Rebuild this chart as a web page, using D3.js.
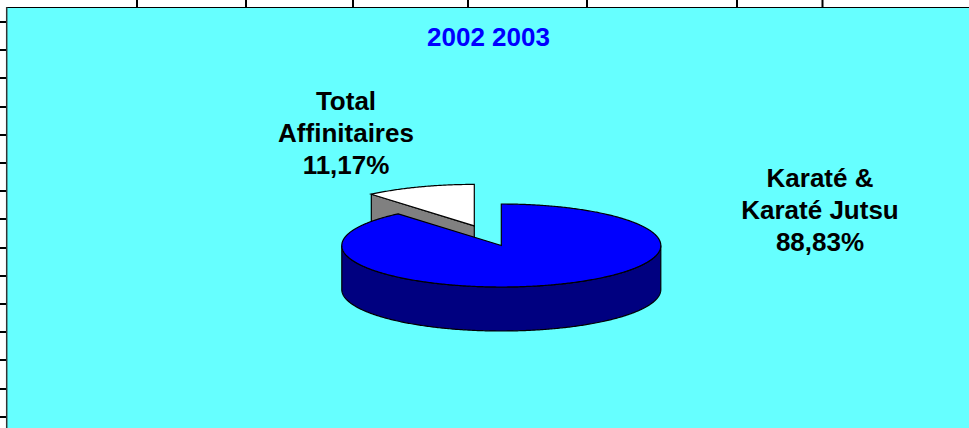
<!DOCTYPE html>
<html>
<head>
<meta charset="utf-8">
<script src="https://cdn.jsdelivr.net/npm/d3@7"></script>
<style>
  html, body { margin: 0; padding: 0; background: #fff; }
  svg { display: block; }
  text { font-family: "Liberation Sans", Arial, sans-serif; font-weight: bold; text-anchor: middle; }
</style>
</head>
<body>
<svg id="chart" width="969" height="428"></svg>
<script>
const title = "2002 2003"
const categories = ["Karaté &\nKaraté Jutsu", "Total\nAffinitaires"]
const values = [88.83, 11.17]

// spreadsheet cell borders showing round the chart area
const columnEdges = [137, 246, 353, 468, 587, 737, 822.5]
const rowEdges = d3.range(22, 428, 28.2).map(Math.round)

const width = 969, height = 428
const rx = 159.5, ry = 41.5, depth = 44
const centre = { x: 501.3, y: 245.5 }
const explode = { x: -27, y: -19.6 }
const labelPos = [{ x: 820, y: 187 }, { x: 346, y: 109.5 }]

const fr = d3.formatLocale({ decimal: ",", thousands: " ", grouping: [3], currency: ["", " €"] })
const pct = v => fr.format(".2f")(v) + "%"

const svg = d3.select("#chart")

svg.append("rect")
  .attr("x", 7).attr("y", 7)
  .attr("width", width - 7).attr("height", height - 7)
  .attr("fill", "#66ffff")

svg.selectAll(".col")
  .data(columnEdges)
  .enter()
  .append("line")
  .attr("x1", d => d).attr("x2", d => d)
  .attr("y1", 0).attr("y2", 7)
  .attr("stroke", "#000").attr("stroke-width", 2)

svg.selectAll(".row")
  .data(rowEdges)
  .enter()
  .append("line")
  .attr("x1", 0).attr("x2", 7)
  .attr("y1", d => d).attr("y2", d => d)
  .attr("stroke", "#000").attr("stroke-width", 2)

svg.append("line")
  .attr("x1", 6).attr("x2", width)
  .attr("y1", 7.5).attr("y2", 7.5)
  .attr("stroke", "#000").attr("stroke-width", 1)
svg.append("line")
  .attr("x1", 6.7).attr("x2", 6.7)
  .attr("y1", 7).attr("y2", height)
  .attr("stroke", "#333").attr("stroke-width", 1.5)

// d3 angles run clockwise from 12 o'clock: Affinitaires sits just left of 12, the rest wraps round
const angle = d3.scaleLinear().domain([0, d3.sum(values)]).range([0, 2 * Math.PI])
const other = { start: -angle(values[1]), end: 0 }
const main = { start: 0, end: angle(values[0]) }

const project = (a, c) => [c.x + rx * Math.sin(a), c.y - ry * Math.cos(a)]

const line = d3.line()

// top face of a slice, flattened from a circular arc
function topFace(s, c) {
  const steps = d3.range(s.start, s.end, 0.01).concat([s.end])
  return line([[c.x, c.y]].concat(steps.map(a => project(a, c)))) + "Z"
}

// front wall of the big slice: only the part of the rim facing the viewer
function rimWall(c) {
  const front = d3.range(Math.PI / 2, 3 * Math.PI / 2, 0.01).concat([3 * Math.PI / 2])
  const upper = front.map(a => project(a, c))
  const lower = upper.map(p => [p[0], p[1] + depth]).reverse()
  return line(upper.concat(lower)) + "Z"
}

const shifted = { x: centre.x + explode.x, y: centre.y + explode.y }
const tip = project(other.start, shifted)

// cut face of the pulled-out slice
svg.append("path")
  .attr("d", line([tip, [shifted.x, shifted.y], [shifted.x, shifted.y + depth], [tip[0], tip[1] + depth]]) + "Z")
  .attr("fill", "#808080").attr("stroke", "#000").attr("stroke-width", 1.2)

svg.append("path")
  .attr("d", topFace(other, shifted))
  .attr("fill", "#fff").attr("stroke", "#000").attr("stroke-width", 1.2)

svg.append("path")
  .attr("d", rimWall(centre))
  .attr("fill", "#000080").attr("stroke", "#000").attr("stroke-width", 1.2)

svg.append("path")
  .attr("d", topFace(main, centre))
  .attr("fill", "#0000ff").attr("stroke", "#000").attr("stroke-width", 1.2)

svg.append("text")
  .attr("x", 488.5).attr("y", 46)
  .attr("font-size", 26)
  .attr("fill", "#0000ff")
  .text(title)

const labels = svg.selectAll(".label")
  .data(categories)
  .enter()
  .append("text")
  .attr("class", "label")
  .attr("font-size", 26)
  .attr("fill", "#000")

labels.each(function (d, i) {
  const rows = d.split("\n").concat(pct(values[i]))
  d3.select(this).selectAll("tspan")
    .data(rows)
    .enter()
    .append("tspan")
    .attr("x", labelPos[i].x)
    .attr("y", (r, j) => labelPos[i].y + j * 32.2)
    .text(r => r)
})
</script>
</body>
</html>
